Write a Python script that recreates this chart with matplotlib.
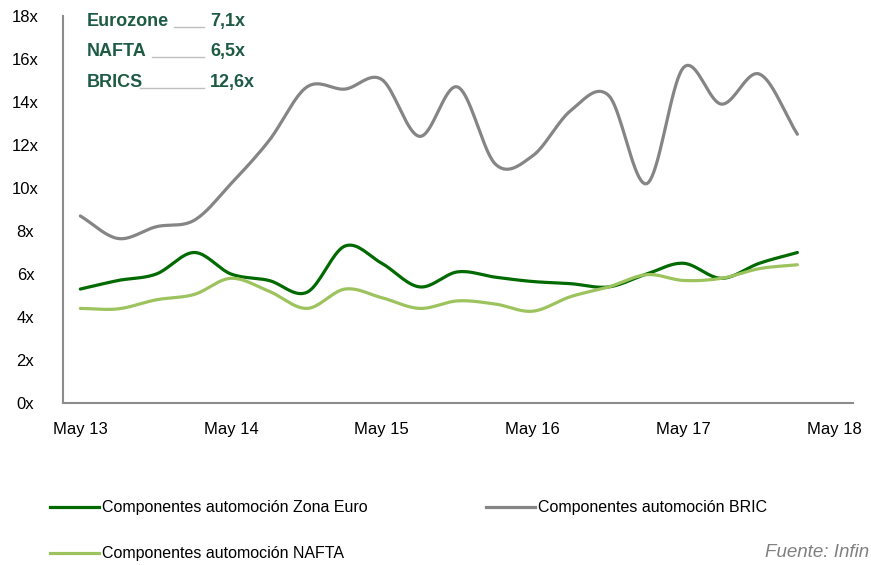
import numpy as np
import pandas as pd
import matplotlib
matplotlib.use("Agg")
import matplotlib.pyplot as plt
import matplotlib.dates as mdates
from matplotlib.lines import Line2D

# quarterly observations, May 2013 - Feb 2018
fechas = pd.date_range("2013-05-01", periods=20, freq="3MS")
zona_euro = [5.3, 5.7, 6.0, 7.0, 6.0, 5.7, 5.15, 7.3, 6.5, 5.4,
             6.1, 5.85, 5.65, 5.55, 5.4, 6.0, 6.5, 5.8, 6.5, 7.0]
bric = [8.7, 7.65, 8.2, 8.5, 10.2, 12.2, 14.7, 14.6, 15.05, 12.4,
        14.7, 11.1, 11.5, 13.6, 14.3, 10.2, 15.6, 13.9, 15.3, 12.5]
nafta = [4.4, 4.38, 4.8, 5.05, 5.8, 5.2, 4.4, 5.3, 4.9, 4.4,
         4.75, 4.6, 4.27, 4.95, 5.4, 5.97, 5.7, 5.8, 6.25, 6.43]

resumen = [("Eurozone", "7,1x"), ("NAFTA", "6,5x"), ("BRICS", "12,6x")]

verde = "#006A00"
gris = "#858585"
verde_claro = "#9DC35E"
texto_verde = "#1E5B45"


def suavizar(x, y, n=20):
    # catmull-rom, like the smoothed lines in excel
    x = np.asarray(x, float)
    y = np.asarray(y, float)
    px = np.concatenate([[2 * x[0] - x[1]], x, [2 * x[-1] - x[-2]]])
    py = np.concatenate([[2 * y[0] - y[1]], y, [2 * y[-1] - y[-2]]])
    xs, ys = [], []
    t = np.linspace(0, 1, n, endpoint=False)
    for i in range(1, len(px) - 2):
        for arr, out in ((px, xs), (py, ys)):
            p0, p1, p2, p3 = arr[i - 1], arr[i], arr[i + 1], arr[i + 2]
            out.append(0.5 * (2 * p1 + (-p0 + p2) * t
                              + (2 * p0 - 5 * p1 + 4 * p2 - p3) * t ** 2
                              + (-p0 + 3 * p1 - 3 * p2 + p3) * t ** 3))
    xs.append([x[-1]])
    ys.append([y[-1]])
    return np.concatenate(xs), np.concatenate(ys)


plt.rcParams['font.family'] = ['Liberation Sans', 'DejaVu Sans']

fig = plt.figure(figsize=(8.71, 5.65), dpi=100)
ax = fig.add_axes([0.0723, 0.2867, 0.9067, 0.685])

xn = mdates.date2num(fechas)
for serie, color in ((bric, gris), (zona_euro, verde), (nafta, verde_claro)):
    sx, sy = suavizar(xn, serie)
    ax.plot(sx, sy, color=color, lw=2.3, solid_capstyle='round')

ax.set_ylim(0, 18)
ax.set_yticks(range(0, 19, 2))
ax.set_yticklabels([f"{v}x" for v in range(0, 19, 2)])
ax.set_xlim(mdates.date2num(pd.Timestamp("2013-03-20")),
            mdates.date2num(pd.Timestamp("2018-06-15")))
ticks = pd.date_range("2013-05-01", periods=6, freq="12MS")
ax.set_xticks(mdates.date2num(ticks))
ax.set_xticklabels([d.strftime("%b %y") for d in ticks])
ax.tick_params(length=0, labelsize=12, colors="black")
ax.tick_params(axis='x', pad=14)
ax.tick_params(axis='y', pad=27)
for lbl in ax.get_yticklabels():
    lbl.set_horizontalalignment('center')
for s in ("top", "right"):
    ax.spines[s].set_visible(False)
for s in ("left", "bottom"):
    ax.spines[s].set_color("#8C8C8C")
    ax.spines[s].set_linewidth(1.5)

# summary box top left
filas_y = [0.962, 0.908, 0.854]
fin_linea = [174, 152, 140]
for (nombre, valor), yy, x0 in zip(resumen, filas_y, fin_linea):
    fig.text(87 / 871, yy, nombre, color=texto_verde, fontsize=13,
             fontweight='bold', va='center', ha='left')
    fig.text(210 / 871, yy, valor, color=texto_verde, fontsize=13,
             fontweight='bold', va='center', ha='left')
    fig.add_artist(Line2D([x0 / 871, 204 / 871], [yy - 0.009, yy - 0.009],
                          color="#BFBFBF", lw=1))

manejadores = [Line2D([], [], color=verde, lw=2.3),
               Line2D([], [], color=verde_claro, lw=2.3),
               Line2D([], [], color=gris, lw=2.3)]
etiquetas = ["Componentes automoción Zona Euro",
             "Componentes automoción NAFTA",
             "Componentes automoción BRIC"]
fig.legend(manejadores, etiquetas, ncol=2, frameon=False,
           loc='upper left', bbox_to_anchor=(0.050, 0.126),
           prop={'size': 11.5},
           handlelength=3.1, handletextpad=0.15, columnspacing=7.4,
           labelspacing=1.95, borderaxespad=0)

fig.text(0.998, 0.023, "Fuente: Infin", ha='right', va='center',
         fontsize=13.5, style='italic', color="#808080")

fig.savefig("out.png", dpi=100)
